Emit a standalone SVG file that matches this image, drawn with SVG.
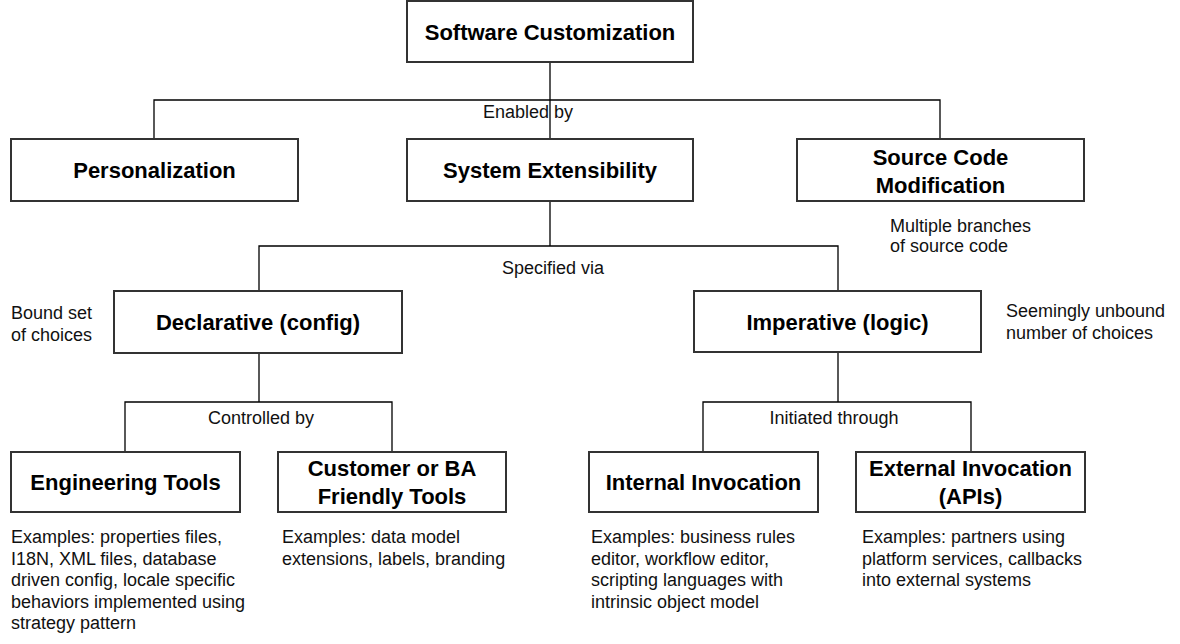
<svg xmlns="http://www.w3.org/2000/svg" width="1180" height="644" viewBox="0 0 1180 644">
<style>
.box{fill:#fff;stroke:#333;stroke-width:2}
.t{font-family:"Liberation Sans",Arial,sans-serif;font-weight:bold;font-size:22px;fill:#000;text-anchor:middle}
.n{font-family:"Liberation Sans",Arial,sans-serif;font-size:18px;fill:#111}
.c{text-anchor:middle}
.ln{fill:none;stroke:#000;stroke-width:1.3}
</style>
<rect width="1180" height="644" fill="#fff"/>
<g id="connectors">
<path class="ln" d="M550,62V139M154,139V100H940V139"/>
<path class="ln" d="M550,201V246M259,291V246H838V291"/>
<path class="ln" d="M259,353V402M125,452V402H392V452"/>
<path class="ln" d="M838,352V402M703,452V402H971V452"/>
<text class="n c" x="528" y="118">Enabled by</text>
<text class="n c" x="553" y="274">Specified via</text>
<text class="n c" x="261" y="424">Controlled by</text>
<text class="n c" x="834" y="424">Initiated through</text>
</g>
<g id="software-customization"><rect class="box" x="407" y="1" width="286" height="61"/><text class="t" x="550" y="40">Software Customization</text></g>
<g id="personalization"><rect class="box" x="11" y="139" width="287" height="62"/><text class="t" x="154.5" y="178">Personalization</text></g>
<g id="system-extensibility"><rect class="box" x="407" y="139" width="286" height="62"/><text class="t" x="550" y="178">System Extensibility</text></g>
<g id="source-code-modification"><rect class="box" x="797" y="139" width="287" height="62"/><text class="t" x="940.5" y="165">Source Code</text><text class="t" x="940.5" y="193">Modification</text>
<text class="n" x="890" y="232">Multiple branches</text><text class="n" x="890" y="252">of source code</text></g>
<g id="declarative"><rect class="box" x="114" y="291" width="288" height="62"/><text class="t" x="258" y="330">Declarative (config)</text>
<text class="n" x="11" y="319">Bound set</text><text class="n" x="11" y="341">of choices</text></g>
<g id="imperative"><rect class="box" x="694" y="291" width="287" height="61"/><text class="t" x="837.5" y="330">Imperative (logic)</text>
<text class="n" x="1006" y="317">Seemingly unbound</text><text class="n" x="1006" y="339">number of choices</text></g>
<g id="engineering-tools"><rect class="box" x="11" y="452" width="229" height="60"/><text class="t" x="125.5" y="490">Engineering Tools</text>
<text class="n" x="11" y="543">Examples: properties files,</text><text class="n" x="11" y="564.5">I18N, XML files, database</text><text class="n" x="11" y="586">driven config, locale specific</text><text class="n" x="11" y="607.5">behaviors implemented using</text><text class="n" x="11" y="629">strategy pattern</text></g>
<g id="customer-ba-tools"><rect class="box" x="278" y="452" width="228" height="60"/><text class="t" x="392" y="476">Customer or BA</text><text class="t" x="392" y="504">Friendly Tools</text>
<text class="n" x="282" y="543">Examples: data model</text><text class="n" x="282" y="564.5">extensions, labels, branding</text></g>
<g id="internal-invocation"><rect class="box" x="589" y="452" width="229" height="60"/><text class="t" x="703.5" y="490">Internal Invocation</text>
<text class="n" x="591" y="543">Examples: business rules</text><text class="n" x="591" y="564.5">editor, workflow editor,</text><text class="n" x="591" y="586">scripting languages with</text><text class="n" x="591" y="607.5">intrinsic object model</text></g>
<g id="external-invocation"><rect class="box" x="856" y="452" width="229" height="60"/><text class="t" x="970.5" y="476">External Invocation</text><text class="t" x="970.5" y="504">(APIs)</text>
<text class="n" x="862" y="543">Examples: partners using</text><text class="n" x="862" y="564.5">platform services, callbacks</text><text class="n" x="862" y="586">into external systems</text></g>
</svg>
